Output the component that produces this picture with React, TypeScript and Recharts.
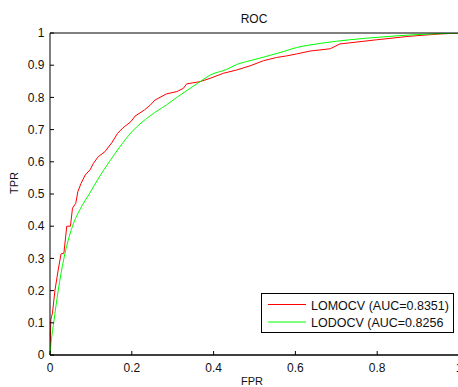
import React from 'react';
import { LineChart, Line, XAxis, YAxis, Legend } from 'recharts';

// LOMOCV curve (red)
const lomoFpr = [0, 0.002, 0.004, 0.006, 0.012, 0.02, 0.027, 0.034, 0.041, 0.05, 0.055, 0.063, 0.068, 0.076, 0.086, 0.098, 0.106, 0.118, 0.134, 0.151, 0.165, 0.178, 0.198, 0.208, 0.231, 0.245, 0.257, 0.285, 0.31, 0.326, 0.334, 0.367, 0.391, 0.424, 0.456, 0.489, 0.522, 0.554, 0.579, 0.603, 0.636, 0.685, 0.709, 0.799, 0.88, 0.954, 1];
const lomoTpr = [0, 0.109, 0.12, 0.13, 0.2, 0.264, 0.314, 0.316, 0.4, 0.4, 0.456, 0.471, 0.507, 0.533, 0.559, 0.575, 0.595, 0.616, 0.631, 0.659, 0.688, 0.705, 0.725, 0.742, 0.761, 0.776, 0.792, 0.811, 0.818, 0.828, 0.842, 0.849, 0.859, 0.875, 0.885, 0.898, 0.914, 0.924, 0.929, 0.935, 0.944, 0.951, 0.966, 0.979, 0.99, 0.997, 1];

// LODOCV curve (green)
const lodoFpr = [0, 0.002, 0.009, 0.02, 0.034, 0.055, 0.075, 0.096, 0.12, 0.145, 0.17, 0.2, 0.245, 0.285, 0.31, 0.34, 0.367, 0.391, 0.432, 0.456, 0.489, 0.522, 0.57, 0.603, 0.636, 0.668, 0.733, 0.815, 0.897, 1];
const lodoTpr = [0, 0.03, 0.1, 0.2, 0.3, 0.4, 0.456, 0.5, 0.552, 0.6, 0.645, 0.693, 0.743, 0.777, 0.8, 0.826, 0.849, 0.869, 0.887, 0.902, 0.914, 0.925, 0.942, 0.955, 0.963, 0.969, 0.979, 0.988, 0.995, 1];

const seriesNames = ['LOMOCV (AUC=0.8351)', 'LODOCV (AUC=0.8256'];
const seriesColors = ['#ff0000', '#00ff00'];

const xTicks = [0, 0.2, 0.4, 0.6, 0.8, 1];
const yTicks = [0, 0.1, 0.2, 0.3, 0.4, 0.5, 0.6, 0.7, 0.8, 0.9, 1];

const lomoData = lomoFpr.map((fpr, i) => ({ fpr, tpr: lomoTpr[i] }));
const lodoData = lodoFpr.map((fpr, i) => ({ fpr, tpr: lodoTpr[i] }));

const FONT = '"Liberation Sans", Arial, Helvetica, sans-serif';
const tickStyle = { fill: '#111', fontSize: 12, fontFamily: FONT };
const axisStroke = { stroke: '#000', strokeWidth: 1 };

// legend box drawn in the MATLAB style, series order kept as plotted
const renderLegend = () => (
  <svg width={193} height={40} style={{ display: 'block' }}>
    <rect x={0.5} y={0.5} width={192} height={39} fill="#fff" stroke="#000" strokeWidth={1} />
    {seriesNames.map((name, i) => (
      <g key={name}>
        <line x1={7} x2={45} y1={11.5 + i * 17.5} y2={11.5 + i * 17.5} stroke={seriesColors[i]} strokeWidth={1} />
        <text x={50} y={16.5 + i * 17.5} fontSize={12.5} fontFamily={FONT} fill="#111">
          {name}
        </text>
      </g>
    ))}
  </svg>
);

export default function App() {
  return (
    <div style={{ position: 'absolute', left: 0, top: 0, width: 458, height: 387, overflow: 'hidden', background: '#fff' }}>
      <LineChart width={460} height={387} margin={{ top: 33, right: 1, left: 0, bottom: 0 }}>
        <XAxis
          dataKey="fpr"
          type="number"
          domain={[0, 1]}
          ticks={xTicks}
          interval={0}
          height={32}
          tickSize={-4}
          tickMargin={12}
          axisLine={{ stroke: '#000', strokeWidth: 1.5 }}
          tickLine={axisStroke}
          tick={tickStyle}
          allowDataOverflow
        />
        <XAxis
          xAxisId="top"
          orientation="top"
          type="number"
          domain={[0, 1]}
          ticks={xTicks}
          interval={0}
          mirror
          tickSize={4}
          tickFormatter={() => ''}
          axisLine={axisStroke}
          tickLine={axisStroke}
        />
        <YAxis
          type="number"
          domain={[0, 1]}
          ticks={yTicks}
          interval={0}
          width={50}
          tickSize={-4}
          tickMargin={9.5}
          axisLine={axisStroke}
          tickLine={axisStroke}
          tick={tickStyle}
          allowDataOverflow
        />
        <YAxis
          yAxisId="right"
          orientation="right"
          type="number"
          domain={[0, 1]}
          ticks={yTicks}
          interval={0}
          width={30}
          mirror
          tickSize={4}
          tickFormatter={() => ''}
          axisLine={axisStroke}
          tickLine={axisStroke}
        />
        <Line
          data={lomoData}
          dataKey="tpr"
          name={seriesNames[0]}
          type="linear"
          stroke={seriesColors[0]}
          strokeWidth={1}
          dot={false}
          activeDot={false}
          isAnimationActive={false}
        />
        <Line
          data={lodoData}
          dataKey="tpr"
          name={seriesNames[1]}
          type="monotone"
          stroke={seriesColors[1]}
          strokeWidth={1}
          dot={false}
          activeDot={false}
          isAnimationActive={false}
        />
        <Legend
          layout="vertical"
          align="center"
          verticalAlign="middle"
          wrapperStyle={{ left: 261, top: 293, width: 193, height: 40 }}
          content={renderLegend}
        />
        <text x={254} y={23} textAnchor="middle" fontSize={12} fontFamily={FONT} fill="#111">ROC</text>
        <text x={252} y={385} textAnchor="middle" fontSize={11} fontFamily={FONT} fill="#111">FPR</text>
        <text x={18} y={183} textAnchor="middle" fontSize={11} fontFamily={FONT} fill="#111" transform="rotate(-90 18 183)">TPR</text>
      </LineChart>
    </div>
  );
}
